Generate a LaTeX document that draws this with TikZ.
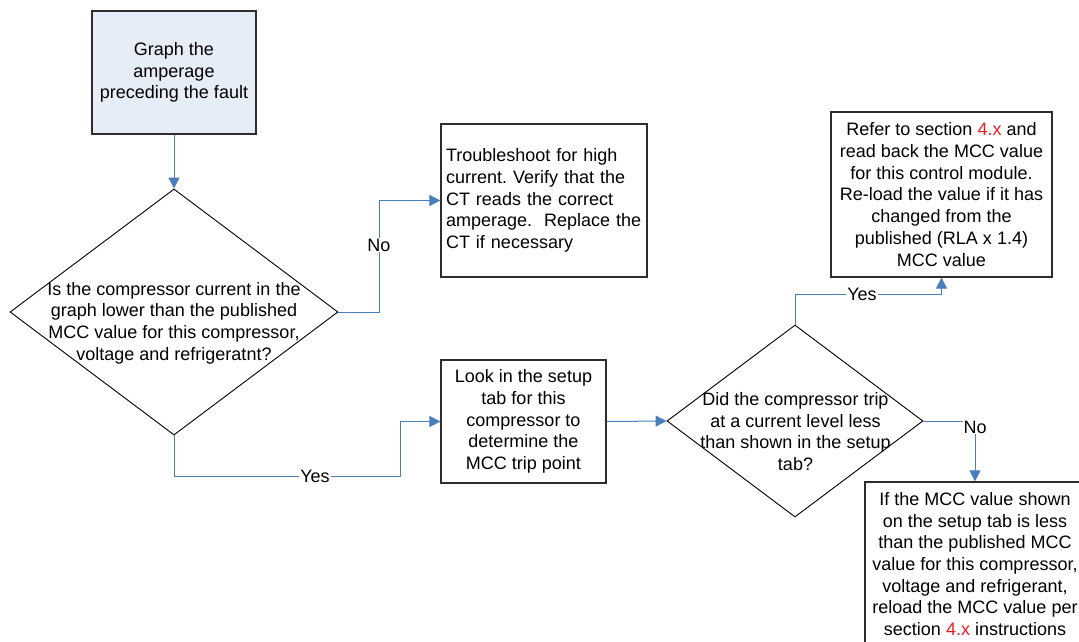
\documentclass[tikz,border=0pt]{standalone}
\usepackage{fontspec}
\setmainfont{Liberation Sans}
\usetikzlibrary{shapes.geometric,arrows.meta}
\definecolor{lineblue}{RGB}{74,126,187}
\definecolor{boxfill}{RGB}{231,237,247}
\definecolor{secred}{RGB}{237,28,36}
\definecolor{boxline}{RGB}{45,45,45}
\newcommand{\secx}{{\color{secred}4.x}}
\frenchspacing
\begin{document}
\begin{tikzpicture}[x=1pt,y=-1pt,
  basefont/.style={font=\fontsize{18}{21.7}\selectfont},
  procbox/.style={basefont, draw=boxline, line width=1.2pt, inner sep=0pt, align=center},
  decision/.style={diamond, draw=black, line width=0.9pt, inner sep=0pt},
  dtext/.style={basefont, align=center, inner sep=0pt},
  conn/.style={draw=lineblue, line width=1pt, -{Triangle[length=11pt,width=11pt]}},
  lbl/.style={basefont, fill=white, inner sep=1pt}]
\clip (0,0) rectangle (1079,642);
\fill[white] (0,0) rectangle (1079,642);

% process boxes
\node[procbox, fill=boxfill, minimum width=164pt, minimum height=123pt] (b1) at (174,72.5)
  {Graph the\\amperage\\preceding the fault};
\node[procbox, align=left, text width=196pt, inner xsep=5pt, minimum height=153pt] (b2) at (544,200.5)
  {Troubleshoot for high\\current. Verify that the\\CT reads the correct\\amperage.\ \ Replace the\\CT if necessary};
\node[procbox, minimum width=165pt, minimum height=123pt] (b3) at (523.5,421.5)
  {Look in the setup\\tab for this\\compressor to\\determine the\\MCC trip point};
\node[procbox, minimum width=221pt, minimum height=165pt] (b4) at (941.5,194.5)
  {Refer to section \secx{} and\\read back the MCC value\\for this control module.\\Re-load the value if it has\\changed from the\\published (RLA x 1.4)\\MCC value};
\node[procbox, minimum width=220pt, minimum height=164pt] (b5) at (975,564)
  {If the MCC value shown\\on the setup tab is less\\than the published MCC\\value for this compressor,\\voltage and refrigerant,\\reload the MCC value per\\section \secx{} instructions};

% decisions
\node[decision, minimum width=328pt, minimum height=246pt] (d1) at (174,312) {};
\node[dtext] (d1t) at (174,323)
  {Is the compressor current in the\\graph lower than the published\\MCC value for this compressor,\\voltage and refrigeratnt?};
\node[decision, minimum width=256pt, minimum height=192pt] (d2) at (795,421) {};
\node[dtext] (d2t) at (795.5,431.5)
  {Did the compressor trip\\at a current level less\\than shown in the setup\\tab?};

% connectors
\draw[conn] (b1.south) -- (d1.north);
\draw[conn] (d1.east) -- (379,312) -- node[lbl,pos=0.6]{No} (379,200.5) -- (b2.west);
\draw[conn] (d1.south) -- (174,476) -- node[lbl,pos=0.624]{Yes} (400,476) -- (400,421.5) -- (b3.west);
\draw[conn] (b3.east) -- (d2.west);
\draw[conn] (d2.north) -- (795,294) -- node[lbl,pos=0.457]{Yes} (941.5,294) -- (b4.south);
\draw[conn] (d2.east) -- (975,421) -- node[lbl,pos=0.1]{No} (b5.north);
\end{tikzpicture}
\end{document}
